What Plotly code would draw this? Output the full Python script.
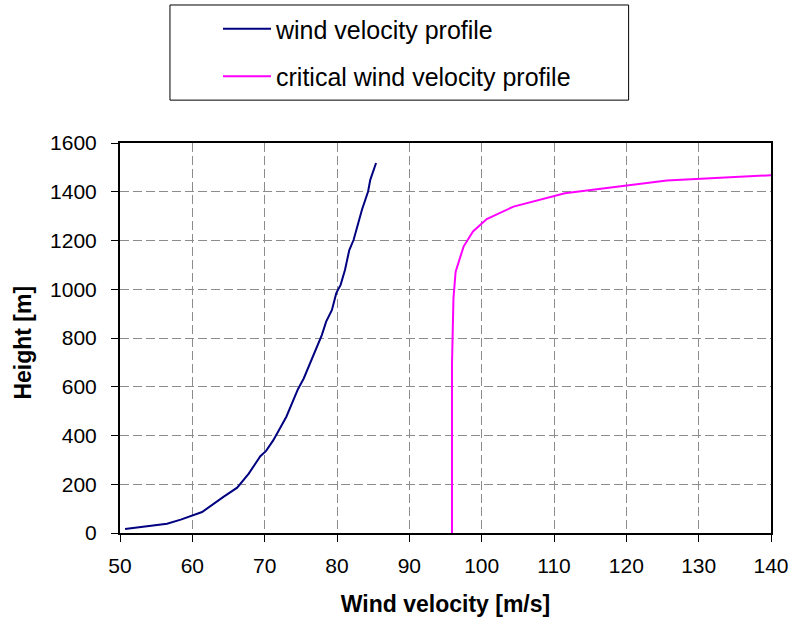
import plotly.graph_objects as go

# Wind velocity profile along the height
wind_v = [50.7, 56.5, 58.4, 61.35, 64.3, 66.2, 67.8, 69.4, 70.2, 71.2, 73.0, 73.9,
          74.6, 75.4, 76.1, 77.0, 77.9, 78.5, 79.3, 79.9, 80.5, 81.1, 81.7, 82.3,
          82.8, 83.45, 84.3, 84.6, 85.4]
wind_h = [16, 38, 55, 86, 148, 186, 244, 315, 337, 381, 477, 540,
          590, 634, 682, 751, 812, 867, 915, 984, 1018, 1079, 1161, 1203,
          1257, 1326, 1401, 1449, 1518]

# Critical wind velocity profile
crit_v = [95.9, 95.9, 96.1, 96.3, 96.4, 97.5, 98.8, 100.7, 104.4, 111.5, 125.6, 140.0]
crit_h = [0, 696, 963, 1030, 1072, 1175, 1237, 1288, 1339, 1394, 1446, 1468]

x_ticks = [50, 60, 70, 80, 90, 100, 110, 120, 130, 140]
y_ticks = [0, 200, 400, 600, 800, 1000, 1200, 1400, 1600]

W, H = 796, 625
ML, MR, MT, MB = 119.5, 25, 143.3, 92.3
PW = W - ML - MR
PH = H - MT - MB

FONT = "Arial, Liberation Sans, sans-serif"

fig = go.Figure()
fig.add_trace(go.Scatter(x=wind_v, y=wind_h, mode="lines", name="wind velocity profile",
                         line=dict(color="#000080", width=2), legendgroup="a"))
fig.add_trace(go.Scatter(x=crit_v, y=crit_h, mode="lines", name="critical wind velocity profile",
                         line=dict(color="#FF00FF", width=2), legendgroup="b"))

grid = dict(showgrid=True, gridcolor="#8c8c8c", gridwidth=1, griddash="9px,4px")

fig.update_xaxes(range=[50, 140], tickvals=x_ticks, ticks="outside", ticklen=7,
                 tickcolor="black", tickwidth=1, showline=True, linecolor="black",
                 linewidth=2, mirror=True, zeroline=False,
                 tickfont=dict(family=FONT, size=21, color="black"),
                 ticklabelstandoff=6,
                 title=dict(text="<b>Wind velocity [m/s]</b>", standoff=20,
                            font=dict(family=FONT, size=23, color="black")),
                 **grid)
fig.update_yaxes(range=[0, 1600], tickvals=y_ticks, ticks="outside", ticklen=7,
                 tickcolor="black", tickwidth=1, showline=True, linecolor="black",
                 linewidth=2, mirror=True, zeroline=False,
                 tickfont=dict(family=FONT, size=21, color="black"),
                 ticklabelstandoff=10,
                 **grid)


def px_to_paper_x(px):
    return (px - ML) / PW


def px_to_paper_y(py):
    return (H - MB - py) / PH


# Vertical axis title
fig.add_annotation(text="<b>Height [m]</b>", textangle=-90, showarrow=False,
                   xref="paper", yref="paper", x=px_to_paper_x(22), y=px_to_paper_y(343),
                   xanchor="center", yanchor="middle",
                   font=dict(family=FONT, size=23, color="black"))

# Legend frame
fig.add_shape(type="rect", xref="paper", yref="paper",
              x0=px_to_paper_x(169.5), x1=px_to_paper_x(628.5),
              y0=px_to_paper_y(100.5), y1=px_to_paper_y(5.5),
              line=dict(color="black", width=1), fillcolor="white", layer="above")

fig.update_layout(
    width=W, height=H,
    margin=dict(l=ML, r=MR, t=MT, b=MB, autoexpand=False),
    plot_bgcolor="white", paper_bgcolor="white",
    font=dict(family=FONT, color="black"),
    showlegend=True,
    legend=dict(xref="container", yref="container", x=218 / W, y=1 - 6 / H,
                xanchor="left", yanchor="top", bgcolor="rgba(0,0,0,0)",
                borderwidth=0, font=dict(family=FONT, size=25, color="black"),
                tracegroupgap=12, itemwidth=48),
)

fig.write_html("out.html")
